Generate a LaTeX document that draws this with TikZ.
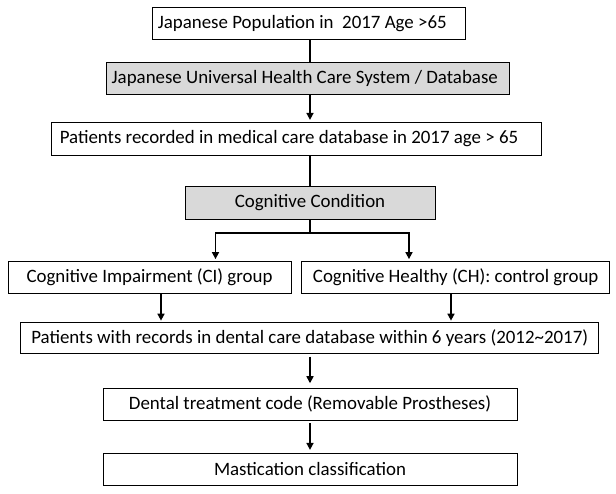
\documentclass[tikz,border=0pt]{standalone}
\usepackage{fontspec}
\setmainfont{Carlito}
\usepackage{xcolor}
\usepackage{tikz}
\usetikzlibrary{arrows.meta, positioning}

\definecolor{boxgray}{RGB}{217,217,217}

\begin{document}
\begin{tikzpicture}[
  x=1pt, y=-1pt,
  box/.style={
    rectangle,
    draw,
    fill=#1,
    line width=0.8pt,
    inner sep=0pt,
    minimum height=32pt,
    font=\fontsize{18.9}{22}\selectfont,
    align=center
  },
  box/.default=white,
  link/.style={
    line width=1.6pt,
    draw=black
  },
  flow/.style={
    -{Triangle[length=7pt, width=7pt]},
    line width=1.6pt,
    draw=black,
    shorten >=2pt
  }
]
\useasboundingbox (0,0) rectangle (616,494);

% Selection steps
\node[box, minimum width=313pt] (pop) at (309.3,23.3) {Japanese Population in\ \ 2017 Age >65\hspace*{14pt}};
\node[box=boxgray, minimum width=403pt] (uhcs) at (308,78.3) {Japanese Universal Health Care System / Database\hspace*{6.5pt}};
\node[box, minimum width=490pt, minimum height=33pt] (med) at (296,138.8) {Patients recorded in medical care database in 2017 age > 65\hspace*{14pt}};
\node[box=boxgray, minimum width=250pt, minimum height=33pt] (cog) at (310,202.8) {Cognitive Condition};

% Two groups
\node[box, minimum width=283pt] (ci) at (149.5,277.5) {Cognitive Impairment (CI) group};
\node[box, minimum width=308pt] (ch) at (455.7,277.5) {Cognitive Healthy (CH): control group};

% Dental part
\node[box, minimum width=578pt, minimum height=31.3pt] (dent) at (309.7,337.7) {Patients with records in dental care database within 6 years (2012\textasciitilde2017)};
\node[box, minimum width=414pt, minimum height=31.3pt] (code) at (310,404.3) {Dental treatment code (Removable Prostheses)};
\node[box, minimum width=414pt] (mast) at (310,469.3) {Mastication classification};

\coordinate (split) at (310,233.3);

% Connections
\draw[link] (pop.south -| split) -- (split |- uhcs.north);
\draw[flow] (uhcs.south -| split) -- (split |- med.north);
\draw[link] (split |- med.south) -- (split |- cog.north);
\draw[link] (cog.south -| split) -- (split);
\draw[flow] (split) -| ([xshift=66pt]ci.north);
\draw[flow] (split) -| ([xshift=-46.7pt]ch.north);

\draw[flow, shorten >=1pt] ([xshift=11.5pt]ci.south) -- ([xshift=11.5pt]ci.south |- dent.north);
\draw[flow, shorten >=1pt] ([xshift=-4.7pt]ch.south) -- ([xshift=-4.7pt]ch.south |- dent.north);
\draw[flow, shorten <=3pt, shorten >=5pt] (dent.south -| split) -- (split |- code.north);
\draw[flow, shorten <=3pt, shorten >=3pt] (code.south -| split) -- (split |- mast.north);
\end{tikzpicture}
\end{document}
